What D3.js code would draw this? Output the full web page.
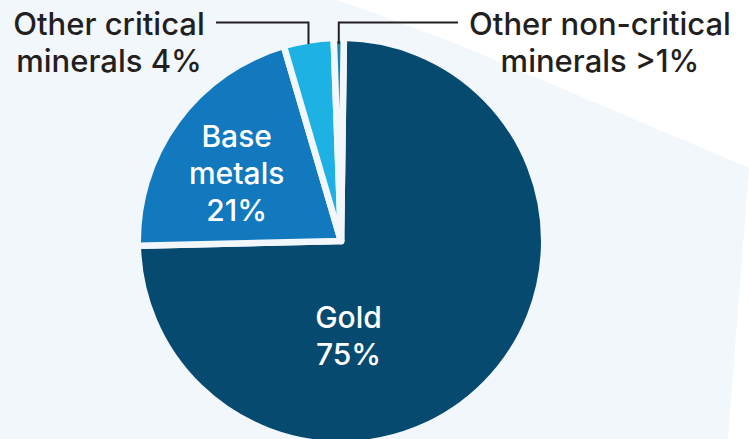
<!DOCTYPE html>
<html>
<head>
<meta charset="utf-8">
<script src="https://cdn.jsdelivr.net/npm/d3@7"></script>
<style>
  html, body { margin: 0; padding: 0; background: #fff; }
  svg { display: block; }
  text { font-family: Inter, Lato, sans-serif; }
</style>
</head>
<body>
<div id="chart"></div>
<script>
// data
var categories = ["Gold", "Base metals", "Other critical minerals", "Other non-critical minerals"];
var shares = [75, 21, 4, 0.8];
var shareLabels = ["75%", "21%", "4%", ">1%"];
var colors = ["#074a70", "#1279be", "#1db1e4", "#1b86b2"];

var width = 749,
	height = 439,
	cx = 341,
	cy = 241,
	gap = 6.6,
	radius = 200 + gap / 2,
	bg = "#f2f7fc";

var svg = d3.select("#chart").append("svg")
	.attr("width", width)
	.attr("height", height);

// light background shape
svg.append("path")
	.attr("d", "M0,0 L337,0 Q400,22 460,45 L749,168 L728,439 L0,439 Z")
	.attr("fill", bg);

var start = 0.8 * Math.PI / 180;

var pie = d3.pie()
	.sort(null)
	.startAngle(start)
	.endAngle(start + 2 * Math.PI)
	.value(function(d) { return d; });

var arc = d3.arc()
	.innerRadius(0)
	.outerRadius(radius);

var arcs = pie(shares);

var g = svg.append("g")
	.attr("transform", "translate(" + cx + "," + cy + ")");

g.selectAll(".slice")
	.data(arcs)
	.enter().append("path")
	.attr("class", "slice")
	.attr("fill", function(d, i) { return colors[i]; })
	.attr("stroke", bg)
	.attr("stroke-width", gap)
	.attr("stroke-linejoin", "round")
	.attr("d", arc);

// labels inside the two big slices
var baseC = d3.arc().innerRadius(128).outerRadius(128).centroid(arcs[1]);
var inner = [
	{ lines: ["Base", "metals", shareLabels[1]], x: baseC[0] - 1, y: baseC[1] - 18, step: 37 },
	{ lines: [categories[0], shareLabels[0]], x: 7.5, y: 87, step: 37 }
];

inner.forEach(function(d) {
	var t = g.append("text")
		.attr("text-anchor", "middle")
		.attr("fill", "#fff")
		.attr("font-size", 30)
		.attr("font-weight", 500);
	d.lines.forEach(function(line, k) {
		t.append("tspan")
			.attr("x", d.x)
			.attr("y", d.y + k * d.step)
			.text(line);
	});
});

// outside labels with leader lines
var outerLabels = [
	{ lines: ["Other critical", "minerals " + shareLabels[2]], x: 109 },
	{ lines: ["Other non-critical", "minerals " + shareLabels[3]], x: 600 }
];

outerLabels.forEach(function(d) {
	var t = svg.append("text")
		.attr("text-anchor", "middle")
		.attr("fill", "#231f20")
		.attr("font-size", 31)
		.attr("font-weight", 500);
	d.lines.forEach(function(line, k) {
		t.append("tspan")
			.attr("x", d.x)
			.attr("y", 35 + k * 37)
			.text(line);
	});
});

// leader lines drop onto the middle of the two small slices
function midX(a) { return cx + radius * Math.sin((a.startAngle + a.endAngle) / 2); }
var lx1 = midX(arcs[2]);
var lx2 = midX(arcs[3]);

svg.append("path")
	.attr("d", "M216,22.5 H" + lx1 + " V44")
	.attr("fill", "none")
	.attr("stroke", "#231f20")
	.attr("stroke-width", 2);

svg.append("path")
	.attr("d", "M458,22.5 H" + lx2 + " V44")
	.attr("fill", "none")
	.attr("stroke", "#231f20")
	.attr("stroke-width", 2);
</script>
</body>
</html>
